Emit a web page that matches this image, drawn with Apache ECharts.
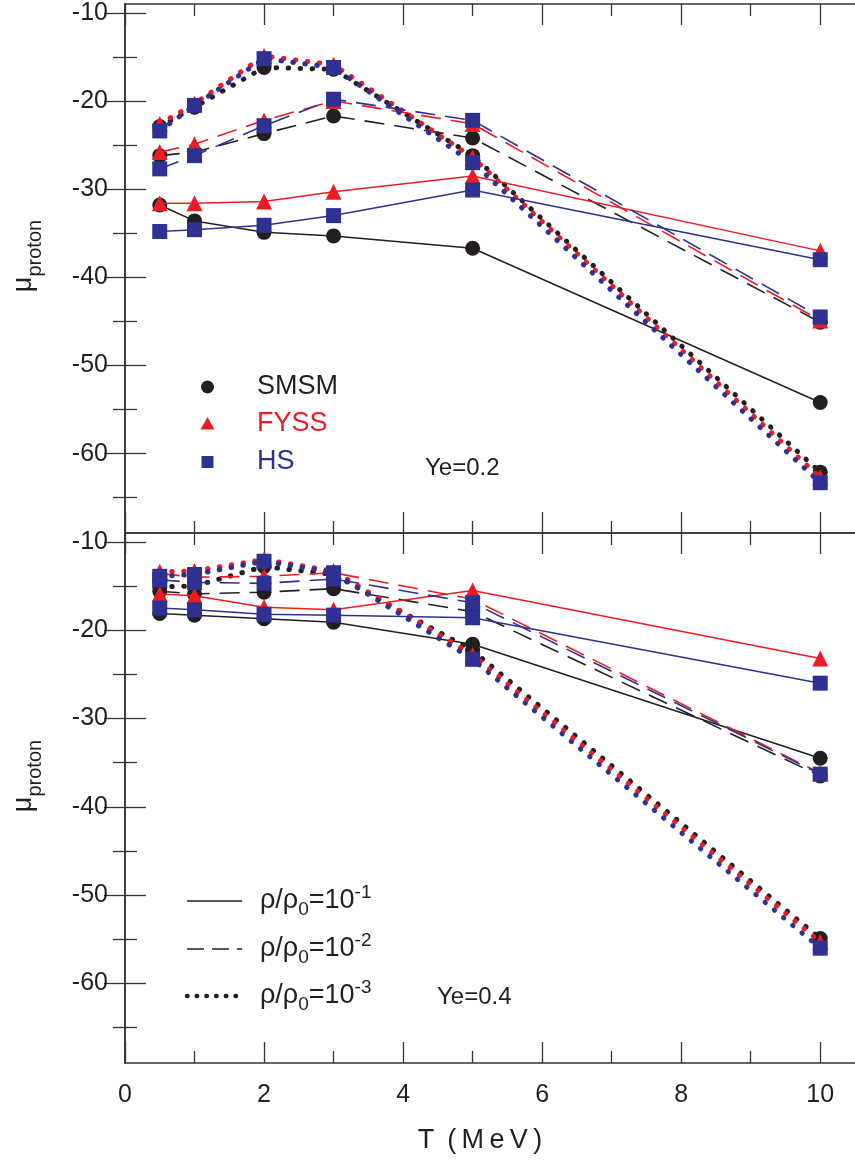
<!DOCTYPE html>
<html><head><meta charset="utf-8">
<script src="https://cdn.jsdelivr.net/npm/echarts@6/dist/echarts.min.js"></script>
<style>html,body{margin:0;padding:0;background:#fff}#c{width:855px;height:1169px}</style>
</head><body><div id="c"></div>
<script>
const temps = [0.5, 1, 2, 3, 5, 10];
const xMajorTicks = [0, 2, 4, 6, 8, 10];
const xMinorTicks = [1, 3, 5, 7, 9];
const yMajorTicks = [-60, -50, -40, -30, -20, -10];
const yMinorTicks = [-65, -55, -45, -35, -25, -15];
const models = ['SMSM', 'FYSS', 'HS'];
const densityLabels = ['-1', '-2', '-3'];
const panelLabels = ['Ye=0.2', 'Ye=0.4'];

// Ye = 0.2 (top panel)
const ye02_smsm_d1 = [-31.8, -33.6, -34.9, -35.3, -36.7, -54.2];
const ye02_fyss_d1 = [-31.6, -31.6, -31.4, -30.3, -28.5, -37.0];
const ye02_hs_d1   = [-34.8, -34.6, -34.1, -33.0, -30.1, -38.0];
const ye02_smsm_d2 = [-26.2, -25.8, -23.7, -21.7, -24.2, -45.1];
const ye02_fyss_d2 = [-25.8, -24.9, -22.2, -20.0, -22.6, -44.9];
const ye02_hs_d2   = [-27.7, -26.2, -22.8, -19.8, -22.2, -44.5];
const ye02_smsm_d3 = [-22.9, -20.7, -16.2, -16.4, -26.2, -62.1];
const ye02_fyss_d3 = [-22.6, -20.3, -14.9, -15.9, -26.4, -62.7];
const ye02_hs_d3   = [-23.4, -20.5, -15.2, -16.2, -27.0, -63.3];

// Ye = 0.4 (bottom panel)
const ye04_smsm_d1 = [-18.1, -18.3, -18.7, -19.1, -21.6, -34.5];
const ye04_fyss_d1 = [-15.9, -16.1, -17.4, -17.7, -15.5, -23.2];
const ye04_hs_d1   = [-17.5, -17.7, -18.2, -18.3, -18.6, -26.0];
const ye04_smsm_d2 = [-15.6, -15.9, -15.7, -15.3, -17.9, -36.5];
const ye04_fyss_d2 = [-13.6, -14.0, -13.9, -13.5, -16.5, -36.2];
const ye04_hs_d2   = [-14.3, -14.6, -14.7, -14.2, -16.9, -36.3];
const ye04_smsm_d3 = [-15.1, -15.0, -12.8, -13.7, -22.3, -54.9];
const ye04_fyss_d3 = [-13.4, -13.3, -12.0, -13.3, -22.8, -55.3];
const ye04_hs_d3   = [-13.9, -13.7, -12.2, -13.5, -23.3, -56.0];

const panels = [
  [[ye02_smsm_d1, ye02_fyss_d1, ye02_hs_d1], [ye02_smsm_d2, ye02_fyss_d2, ye02_hs_d2], [ye02_smsm_d3, ye02_fyss_d3, ye02_hs_d3]],
  [[ye04_smsm_d1, ye04_fyss_d1, ye04_hs_d1], [ye04_smsm_d2, ye04_fyss_d2, ye04_hs_d2], [ye04_smsm_d3, ye04_fyss_d3, ye04_hs_d3]]
];

const FONT = "'Liberation Sans', Arial, sans-serif";
const colors = ['#231f20', '#ed1c24', '#2e3192'];
const symbols = ['circle', 'triangle', 'rect'];
const symbolSizes = [15, 16, 15];
const axisColor = '#333';
const lineStyles = [
  { type: 'solid', width: 1.5 },
  { type: [20, 10], width: 1.6 },
  { type: [0.5, 11.5], width: 5, cap: 'round' }
];

const grids = [
  { left: 125, top: 4, width: 735, height: 529 },
  { left: 125, top: 533, width: 735, height: 530 }
];

const xAxes = [], yAxes = [];
grids.forEach((g, gi) => {
  const common = { gridIndex: gi, type: 'value', min: 0, max: 10.5, splitLine: { show: false } };
  xAxes.push(Object.assign({}, common, {
    position: 'bottom',
    axisLine: { show: true, lineStyle: { color: axisColor, width: 1.5 } },
    axisTick: { show: true, inside: true, length: 21, customValues: xMajorTicks, lineStyle: { color: axisColor, width: 1.3 } },
    axisLabel: { show: gi === 1, customValues: xMajorTicks, margin: 20, fontSize: 25, color: '#231f20', fontFamily: FONT }
  }));
  xAxes.push(Object.assign({}, common, {
    position: 'bottom',
    axisLine: { show: false },
    axisTick: { show: true, inside: true, length: 12, customValues: xMinorTicks, lineStyle: { color: axisColor, width: 1.3 } },
    axisLabel: { show: false }
  }));
  xAxes.push(Object.assign({}, common, {
    position: 'top',
    axisLine: { show: true, lineStyle: { color: axisColor, width: 1.5 } },
    axisTick: { show: true, inside: true, length: 21, customValues: xMajorTicks, lineStyle: { color: axisColor, width: 1.3 } },
    axisLabel: { show: false }
  }));
  xAxes.push(Object.assign({}, common, {
    position: 'top',
    axisLine: { show: false },
    axisTick: { show: true, inside: true, length: 12, customValues: xMinorTicks, lineStyle: { color: axisColor, width: 1.3 } },
    axisLabel: { show: false }
  }));
  const ycommon = { gridIndex: gi, type: 'value', min: -69, max: -9, splitLine: { show: false } };
  yAxes.push(Object.assign({}, ycommon, {
    position: 'left',
    axisLine: { show: true, lineStyle: { color: axisColor, width: 1.5 } },
    axisTick: { show: true, inside: true, length: 21, customValues: yMajorTicks, lineStyle: { color: axisColor, width: 1.3 } },
    axisLabel: { show: true, customValues: yMajorTicks, margin: 17, fontSize: 25, color: '#231f20', fontFamily: FONT }
  }));
  yAxes.push(Object.assign({}, ycommon, {
    position: 'left',
    axisLine: { show: false },
    axisTick: { show: true, inside: true, length: 12, customValues: yMinorTicks, lineStyle: { color: axisColor, width: 1.3 } },
    axisLabel: { show: false }
  }));
  yAxes.push(Object.assign({}, ycommon, {
    position: 'right',
    axisLine: { show: true, lineStyle: { color: axisColor, width: 1.5 } },
    axisTick: { show: true, inside: true, length: 21, customValues: yMajorTicks, lineStyle: { color: axisColor, width: 1.3 } },
    axisLabel: { show: false }
  }));
  yAxes.push(Object.assign({}, ycommon, {
    position: 'right',
    axisLine: { show: false },
    axisTick: { show: true, inside: true, length: 12, customValues: yMinorTicks, lineStyle: { color: axisColor, width: 1.3 } },
    axisLabel: { show: false }
  }));
});

const series = [];
panels.forEach((panel, gi) => {
  panel.forEach((densSet, di) => {
    densSet.forEach((vals, mi) => {
      series.push({
        type: 'line',
        name: models[mi] + ' ' + densityLabels[di] + ' ' + panelLabels[gi],
        xAxisIndex: gi * 4,
        yAxisIndex: gi * 4,
        data: temps.map((t, k) => [t, vals[k]]),
        symbol: symbols[mi],
        symbolSize: symbolSizes[mi],
        showSymbol: true,
        clip: false,
        silent: true,
        animation: false,
        itemStyle: { color: colors[mi] },
        lineStyle: Object.assign({ color: colors[mi] }, lineStyles[di]),
        z: 2 + mi
      });
    });
  });
});

const graphic = [];
// y axis titles
[256, 776].forEach(cy => {
  graphic.push({
    type: 'text', x: 24, y: cy, rotation: Math.PI / 2,
    style: {
      text: '{a|μ}{b|proton}', align: 'center', verticalAlign: 'middle',
      rich: {
        a: { fontSize: 27, fontFamily: FONT, fill: '#231f20', lineHeight: 44, verticalAlign: 'middle' },
        b: { fontSize: 20, fontFamily: FONT, fill: '#231f20', lineHeight: 44, verticalAlign: 'middle', padding: [22, 0, 0, 0] }
      }
    }
  });
});
// x axis title
graphic.push({ type: 'text', x: 480, y: 1141, style: { text: 'T\u2009 (\u2009M\u2009e\u2009V\u2009)', fontSize: 27, fontFamily: FONT, fill: '#231f20', align: 'center', verticalAlign: 'middle' } });

// model legend (top panel)
const legY = [387, 424, 462];
graphic.push({ type: 'circle', shape: { cx: 207.5, cy: legY[0], r: 6.5 }, style: { fill: colors[0] } });
graphic.push({ type: 'polygon', shape: { points: [[207.5, legY[1] - 7], [214.5, legY[1] + 5.5], [200.5, legY[1] + 5.5]] }, style: { fill: colors[1] } });
graphic.push({ type: 'rect', shape: { x: 201.5, y: legY[2] - 6, width: 12, height: 12 }, style: { fill: colors[2] } });
models.forEach((m, i) => {
  graphic.push({ type: 'text', x: 257, y: legY[i], style: { text: m, fontSize: 27, fontFamily: FONT, fill: colors[i], align: 'left', verticalAlign: 'middle' } });
});
graphic.push({ type: 'text', x: 425, y: 468, style: { text: panelLabels[0], fontSize: 24, fontFamily: FONT, fill: '#231f20', align: 'left', verticalAlign: 'middle' } });
graphic.push({ type: 'text', x: 437, y: 997, style: { text: panelLabels[1], fontSize: 24, fontFamily: FONT, fill: '#231f20', align: 'left', verticalAlign: 'middle' } });

// density legend (bottom panel)
const dLegY = [901, 949, 996];
const dashes = [null, [17, 8], [0.5, 9.2]];
const dWidths = [1.5, 1.6, 4.5];
dLegY.forEach((y, i) => {
  graphic.push({ type: 'line', shape: { x1: 187, y1: y, x2: 242, y2: y }, style: { stroke: '#231f20', lineWidth: dWidths[i], lineDash: dashes[i], lineCap: i === 2 ? 'round' : 'butt' } });
  graphic.push({
    type: 'text', x: 260, y: y,
    style: {
      text: '{n|ρ/ρ}{s|0}{n|=10}{p|' + densityLabels[i] + '}', align: 'left', verticalAlign: 'middle',
      rich: {
        n: { fontSize: 27, fontFamily: FONT, fill: '#231f20', lineHeight: 46, verticalAlign: 'middle' },
        s: { fontSize: 19, fontFamily: FONT, fill: '#231f20', lineHeight: 46, verticalAlign: 'middle', padding: [18, 0, 0, 0] },
        p: { fontSize: 19, fontFamily: FONT, fill: '#231f20', lineHeight: 46, verticalAlign: 'middle', padding: [0, 0, 16, 0] }
      }
    }
  });
});

const chart = echarts.init(document.getElementById('c'), null, { renderer: 'canvas' });
chart.setOption({
  animation: false,
  backgroundColor: '#fff',
  grid: grids,
  xAxis: xAxes,
  yAxis: yAxes,
  series: series,
  graphic: graphic
});
</script>
</body></html>
